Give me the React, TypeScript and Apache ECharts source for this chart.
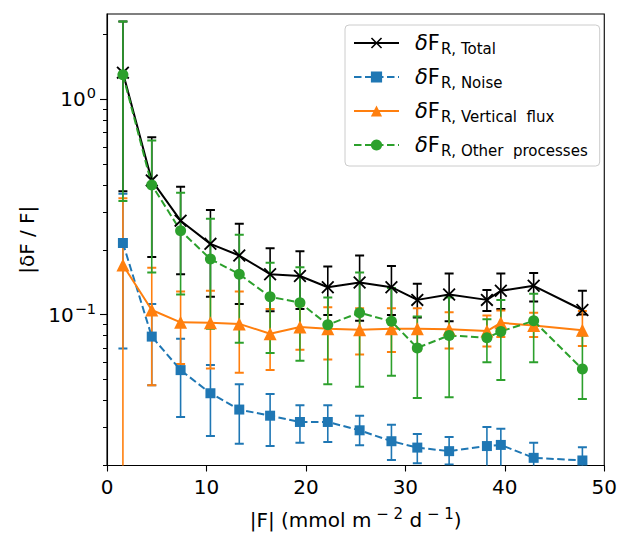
import React, { useEffect, useRef } from "react";
import * as echarts from "echarts";

const FONT = "DejaVu Sans";

const xs = [1.6, 4.5, 7.4, 10.4, 13.3, 16.4, 19.4, 22.2, 25.4, 28.6, 31.2, 34.4, 38.2, 39.6, 42.9, 47.8];

const totalVal = [1.33, 0.42, 0.273, 0.213, 0.188, 0.154, 0.151, 0.134, 0.141, 0.134, 0.117, 0.124, 0.117, 0.129, 0.136, 0.105];
const totalHi = [2.3, 0.667, 0.392, 0.306, 0.264, 0.203, 0.197, 0.167, 0.188, 0.168, 0.139, 0.155, 0.13, 0.155, 0.156, 0.129];
const totalLo = [0.374, 0.185, 0.154, 0.121, 0.112, 0.1035, 0.106, 0.0996, 0.0935, 0.0996, 0.097, 0.093, 0.104, 0.106, 0.115, 0.1];

const noiseVal = [0.215, 0.079, 0.0552, 0.0431, 0.0362, 0.0339, 0.0317, 0.0317, 0.029, 0.0258, 0.0241, 0.0232, 0.0245, 0.0248, 0.0216, 0.021];
const noiseHi = [0.364, 0.112, 0.0773, 0.0583, 0.0474, 0.0428, 0.0379, 0.0379, 0.0339, 0.0308, 0.0279, 0.027, 0.03, 0.0295, 0.0254, 0.0242];
const noiseLo = [0.0695, 0.047, 0.0334, 0.0273, 0.0251, 0.0245, 0.0254, 0.0256, 0.0247, 0.0211, 0.0204, 0.0201, 0.0195, 0.0195, 0.019, 0.019];

const vertVal = [0.17, 0.105, 0.092, 0.0915, 0.0905, 0.0815, 0.0875, 0.0859, 0.085, 0.0859, 0.086, 0.0855, 0.0838, 0.0915, 0.089, 0.0845];
const vertHi = [0.347, 0.165, 0.128, 0.129, 0.128, 0.106, 0.11, 0.108, 0.107, 0.107, 0.107, 0.1025, 0.099, 0.1045, 0.102, 0.104];
const vertLo: (number | null)[] = [null, 0.047, 0.059, 0.0562, 0.0537, 0.0552, 0.0686, 0.0618, 0.0652, 0.067, 0.068, 0.0695, 0.071, 0.0786, 0.0786, 0.0715];

const otherVal = [1.3, 0.4, 0.245, 0.181, 0.154, 0.121, 0.1136, 0.0897, 0.102, 0.093, 0.07, 0.08, 0.078, 0.0835, 0.0935, 0.0558];
const otherHi = [2.3, 0.643, 0.368, 0.279, 0.235, 0.174, 0.166, 0.12, 0.157, 0.133, 0.098, 0.12, 0.095, 0.117, 0.125, 0.08];
const otherLo = [0.337, 0.157, 0.124, 0.086, 0.074, 0.0663, 0.061, 0.0474, 0.0462, 0.052, 0.041, 0.0413, 0.06, 0.0497, 0.06, 0.0405];

const seriesNames = ["Total", "Noise", "Vertical flux", "Other processes"];
const subLabels: Record<string, string> = {
  Total: "R, Total",
  Noise: "R, Noise",
  "Vertical flux": "R, Vertical  flux",
  "Other processes": "R, Other  processes",
};

const xTicks = [0, 10, 20, 30, 40, 50];
const yMajor = [0.1, 1];
const yMinor = [0.02, 0.03, 0.04, 0.05, 0.06, 0.07, 0.08, 0.09, 0.2, 0.3, 0.4, 0.5, 0.6, 0.7, 0.8, 0.9, 2];

const COLORS = { total: "#000000", noise: "#1f77b4", vert: "#ff7f0e", other: "#2ca02c" };
const X_PATH = "path://M0,1 L1,0 L5,4 L9,0 L10,1 L6,5 L10,9 L9,10 L5,6 L1,10 L0,9 L4,5 Z";

function errSeries(color: string, val: number[], lo: (number | null)[], hi: number[]) {
  return {
    type: "custom",
    clip: true,
    silent: true,
    data: xs.map((x, i) => [x, val[i]]),
    renderItem: (params: any, api: any) => {
      const i = params.dataIndex;
      const x = xs[i];
      const cs = params.coordSys;
      const top = api.coord([x, hi[i]]);
      const l = lo[i];
      let by: number;
      let hasBottomCap = true;
      if (l != null && l > 0) {
        by = api.coord([x, l])[1];
      } else {
        by = cs.y + cs.height + 5;
        hasBottomCap = false;
      }
      const cw = 4.5;
      const st = { stroke: color, lineWidth: 1.6 };
      const children: any[] = [
        { type: "line", shape: { x1: top[0], y1: top[1], x2: top[0], y2: by }, style: st },
        { type: "line", shape: { x1: top[0] - cw, y1: top[1], x2: top[0] + cw, y2: top[1] }, style: { ...st, lineWidth: 2 } },
      ];
      if (hasBottomCap) {
        children.push({ type: "line", shape: { x1: top[0] - cw, y1: by, x2: top[0] + cw, y2: by }, style: { ...st, lineWidth: 2 } });
      }
      return { type: "group", children };
    },
    z: 2,
  };
}

function lineSeries(name: string, color: string, val: number[], symbol: string, size: number, dashed: boolean) {
  return {
    type: "line",
    name,
    data: xs.map((x, i) => [x, val[i]]),
    symbol,
    symbolSize: size,
    showAllSymbol: true,
    lineStyle: { color, width: 2, type: dashed ? [7.5, 3.5] : "solid" },
    itemStyle: { color, borderWidth: 0 },
    emphasis: { disabled: true },
    z: 2,
  };
}

export default function App() {
  const ref = useRef<HTMLDivElement>(null);
  useEffect(() => {
    if (!ref.current) return;
    const chart = echarts.init(ref.current, undefined, { renderer: "svg" });
    const yMin = 0.0199;
    const yMax = 2.49;
    chart.setOption({
      animation: false,
      textStyle: { fontFamily: FONT },
      grid: { left: 107, top: 14, right: 15, bottom: 68, show: true, borderColor: "#000", borderWidth: 1.1, backgroundColor: "transparent" },
      legend: {
        data: seriesNames,
        orient: "vertical",
        left: 345,
        top: 25,
        width: 249,
        itemWidth: 45,
        itemHeight: 14,
        itemGap: 8,
        padding: [5, 12, 8, 8],
        backgroundColor: "rgba(255,255,255,0.8)",
        borderColor: "#cccccc",
        borderWidth: 1,
        borderRadius: 4,
        formatter: (name: string) => `{d|δ}{f|F}{s|${subLabels[name]}}`,
        textStyle: {
          padding: [0, 0, 0, 11],
          rich: {
            d: { fontFamily: FONT, fontSize: 21, fontStyle: "italic", color: "#000", lineHeight: 26 },
            f: { fontFamily: FONT, fontSize: 21, color: "#000", lineHeight: 26 },
            s: { fontFamily: FONT, fontSize: 15, color: "#000", lineHeight: 15, padding: [11, 0, 0, 1] },
          },
        },
      },
      xAxis: {
        type: "value",
        min: 0,
        max: 50,
        interval: 10,
        name: "|F| (mmol m{sup| − 2} d{sup| − 1})",
        nameLocation: "middle",
        nameGap: 42,
        nameTextStyle: {
          fontFamily: FONT,
          fontSize: 20,
          color: "#000",
          lineHeight: 24,
          rich: { sup: { fontFamily: FONT, fontSize: 15, color: "#000", lineHeight: 15, padding: [0, 0, 12, 0] } },
        },
        axisLine: { show: true, lineStyle: { color: "#000", width: 1.1 } },
        axisTick: { show: true, inside: false, length: 6, lineStyle: { color: "#000", width: 1.1 }, customValues: xTicks },
        axisLabel: { show: true, color: "#000", fontSize: 20, fontFamily: FONT, margin: 11, customValues: xTicks },
        splitLine: { show: false },
      },
      yAxis: [
        {
          type: "log",
          min: yMin,
          max: yMax,
          logBase: 10,
          name: "|δF / F|",
          nameLocation: "middle",
          nameGap: 62,
          nameRotate: 90,
          nameTextStyle: { fontFamily: FONT, fontSize: 20, color: "#000" },
          axisLine: { show: true, lineStyle: { color: "#000", width: 1.1 } },
          axisTick: { show: true, inside: false, length: 7, lineStyle: { color: "#000", width: 1.1 }, customValues: yMajor },
          axisLabel: {
            show: true,
            margin: 11,
            customValues: yMajor,
            formatter: (v: number) => (v > 0.5 ? "{b|10}{e|0}" : "{b|10}{e|−1}"),
            rich: {
              b: { fontFamily: FONT, fontSize: 20, color: "#000", lineHeight: 24 },
              e: { fontFamily: FONT, fontSize: 14.5, color: "#000", lineHeight: 14, padding: [0, 0, 12, 1] },
            },
          },
          splitLine: { show: false },
        },
        {
          type: "log",
          min: yMin,
          max: yMax,
          logBase: 10,
          position: "left",
          axisLine: { show: false },
          axisTick: { show: true, inside: false, length: 4, lineStyle: { color: "#000", width: 1 }, customValues: yMinor },
          axisLabel: { show: false },
          splitLine: { show: false },
        },
      ],
      series: [
        errSeries(COLORS.total, totalVal, totalLo, totalHi),
        lineSeries("Total", COLORS.total, totalVal, X_PATH, 13, false),
        errSeries(COLORS.noise, noiseVal, noiseLo, noiseHi),
        lineSeries("Noise", COLORS.noise, noiseVal, "rect", 10, true),
        errSeries(COLORS.vert, vertVal, vertLo, vertHi),
        lineSeries("Vertical flux", COLORS.vert, vertVal, "triangle", 13, false),
        errSeries(COLORS.other, otherVal, otherLo, otherHi),
        lineSeries("Other processes", COLORS.other, otherVal, "circle", 11, true),
      ],
    });
    return () => chart.dispose();
  }, []);
  return <div ref={ref} style={{ width: 620, height: 538, position: "absolute", left: 0, top: 0 }} />;
}
